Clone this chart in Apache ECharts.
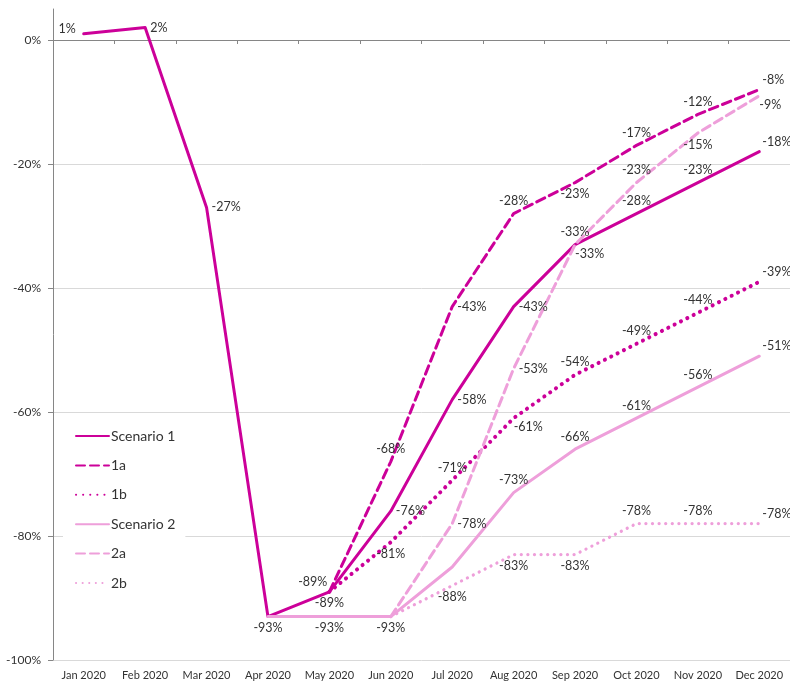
<!DOCTYPE html>
<html>
<head>
<meta charset="utf-8">
<script src="https://cdn.jsdelivr.net/npm/echarts@6/dist/echarts.min.js"></script>
<style>
  html, body { margin: 0; padding: 0; background: #fff; }
  #chart { width: 790px; height: 682px; }
</style>
</head>
<body>
<div id="chart"></div>
<script>
// Datos (% de variación)
const meses = ['Jan 2020', 'Feb 2020', 'Mar 2020', 'Apr 2020', 'May 2020', 'Jun 2020',
               'Jul 2020', 'Aug 2020', 'Sep 2020', 'Oct 2020', 'Nov 2020', 'Dec 2020'];
const escenario1 = [1, 2, -27, -93, -89, -76, -58, -43, -33, -28, -23, -18];
const esc1a = [null, null, null, null, -89, -68, -43, -28, -23, -17, -12, -8];
const esc1b = [null, null, null, null, -89, -81, -71, -61, -54, -49, -44, -39];
const escenario2 = [null, null, null, -93, -93, -93, -85, -73, -66, -61, -56, -51];
const esc2a = [null, null, null, null, null, -93, -78, -53, -33, -23, -15, -9];
const esc2b = [null, null, null, null, null, -93, -88, -83, -83, -78, -78, -78];
const ticksY = [-100, -80, -60, -40, -20, 0];

// Posición de cada etiqueta (T arriba, B abajo, R derecha, L izquierda, '' sin etiqueta)
const pos1 = ['L', 'R', 'R', 'B', '', 'R', 'R', 'R', 'T', 'T', 'T', 'TR'];
const pos1a = ['', '', '', '', 'TL', 'T', 'R', 'T', 'B', 'T', 'T', 'TR'];
const pos1b = ['', '', '', '', 'B', 'B', 'T', 'BR', 'T', 'T', 'T', 'TR'];
const pos2 = ['', '', '', '', 'B', 'B', '', 'T', 'T', 'T', 'T', 'TR'];
const pos2a = ['', '', '', '', '', '', 'R', 'R', 'BR', 'T', 'B', 'BR'];
const pos2b = ['', '', '', '', '', '', 'B', 'B', 'B', 'T', 'T', 'TR'];

const MAGENTA = '#CC0099';
const ROSA = '#EE9FDA';
const fuente = 'Lato, "Liberation Sans", sans-serif';

function etiqueta(codigo) {
    const base = { show: true, color: '#333333', fontSize: 12.5, fontFamily: fuente,
                   formatter: p => p.value + '%' };
    if (codigo === '') return { show: false };
    if (codigo === 'T') return Object.assign(base, { position: 'top', distance: 6 });
    if (codigo === 'B') return Object.assign(base, { position: 'bottom', distance: 5 });
    if (codigo === 'R') return Object.assign(base, { position: 'right', distance: 5 });
    if (codigo === 'L') return Object.assign(base, { position: 'left', distance: 8, offset: [0, -5] });
    if (codigo === 'TR') return Object.assign(base, { position: 'right', distance: 3, offset: [0, -10] });
    if (codigo === 'BR') return Object.assign(base, { position: 'right', distance: 0, offset: [0, 9] });
    if (codigo === 'TL') return Object.assign(base, { position: 'left', distance: 2, offset: [0, -10] });
}

function serie(nombre, valores, posiciones, color, tipo, ancho) {
    return {
        name: nombre,
        type: 'line',
        data: valores.map((v, i) => ({ value: v, label: etiqueta(posiciones[i]) })),
        symbol: 'circle',
        symbolSize: 0.1,
        showSymbol: true,
        connectNulls: false,
        itemStyle: { color: color },
        lineStyle: { color: color, width: ancho, type: tipo, cap: 'round', join: 'round' },
        emphasis: { disabled: true },
        animation: false
    };
}

const grafico = echarts.init(document.getElementById('chart'));
grafico.setOption({
    backgroundColor: '#fff',
    animation: false,
    grid: { left: 53, right: 0, top: 9, bottom: 22 },
    legend: {
        orient: 'vertical',
        left: 63,
        top: 421,
        padding: [8, 10, 8, 12],
        backgroundColor: '#fff',
        itemWidth: 33,
        itemHeight: 14,
        itemGap: 15.4,
        itemStyle: { opacity: 0 },
        textStyle: { color: '#333333', fontSize: 14, fontFamily: fuente, padding: [0, 0, 0, -3] },
        data: ['Scenario 1', '1a', '1b', 'Scenario 2', '2a', '2b']
    },
    xAxis: [{
        type: 'category',
        data: meses,
        boundaryGap: true,
        axisLine: { onZero: true, lineStyle: { color: '#868686', width: 1 } },
        axisTick: { show: true, length: 4, interval: 0, lineStyle: { color: '#868686' } },
        axisLabel: { show: false },
        splitLine: { show: false }
    }, {
        type: 'category',
        data: meses,
        position: 'bottom',
        boundaryGap: true,
        axisLine: { show: false, onZero: false },
        axisTick: { show: false },
        axisLabel: { color: '#333333', fontSize: 11, fontFamily: fuente, margin: 10, interval: 0 },
        splitLine: { show: false }
    }],
    yAxis: {
        type: 'value',
        min: -100,
        max: 5,
        interval: 20,
        axisLine: { show: true, onZero: false, lineStyle: { color: '#868686' } },
        axisTick: { show: true, length: 5, lineStyle: { color: '#868686' }, customValues: ticksY },
        axisLabel: {
            color: '#333333', fontSize: 12, fontFamily: fuente, margin: 12,
            customValues: ticksY,
            formatter: v => v + '%'
        },
        splitLine: { show: true, showMaxLine: false, lineStyle: { color: '#D9D9D9', width: 1 } }
    },
    series: [
        serie('Scenario 1', escenario1, pos1, MAGENTA, 'solid', 3),
        serie('1a', esc1a, pos1a, MAGENTA, [9, 5], 3),
        serie('1b', esc1b, pos1b, MAGENTA, [0.1, 7], 4),
        serie('Scenario 2', escenario2, pos2, ROSA, 'solid', 3),
        serie('2a', esc2a, pos2a, ROSA, [9, 5], 3),
        serie('2b', esc2b, pos2b, ROSA, [0.1, 6.5], 3.2)
    ]
});
</script>
</body>
</html>
